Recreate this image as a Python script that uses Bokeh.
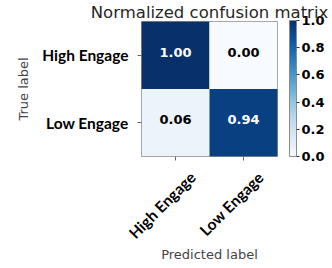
from math import pi
from bokeh.plotting import figure
from bokeh.models import (ColumnDataSource, LinearColorMapper, ColorBar, FixedTicker,
                          PrintfTickFormatter, Range1d, LinearAxis)
from bokeh.palettes import Blues256
from bokeh.transform import transform
from bokeh.embed import file_html
from bokeh.resources import INLINE
from bokeh.core.properties import value

# ---- data ----
classes = ["High Engage", "Low Engage"]
true_labels = ["High Engage", "High Engage", "Low Engage", "Low Engage"]
pred_labels = ["High Engage", "Low Engage", "High Engage", "Low Engage"]
rates = [1.00, 0.00, 0.06, 0.94]
colorbar_ticks = [0.0, 0.2, 0.4, 0.6, 0.8, 1.0]
title_text = "Normalized confusion matrix"
x_title = "Predicted label"
y_title = "True label"

n = len(classes)
col_pos = {c: i + 0.5 for i, c in enumerate(classes)}
row_pos = {c: n - i - 0.5 for i, c in enumerate(classes)}  # first class on top

thresh = max(rates) / 2
src = ColumnDataSource(dict(
    x=[col_pos[c] for c in pred_labels],
    y=[row_pos[c] for c in true_labels],
    rate=rates,
    txt=[f"{r:.2f}" for r in rates],
    tcolor=["white" if r > thresh else "black" for r in rates],
))

# ---- layout ----
W, H = 332, 268
B_LEFT, B_RIGHT, B_TOP, B_BOTTOM = 141, 55, 20, 112
FW = W - B_LEFT - B_RIGHT
FH = H - B_TOP - B_BOTTOM
LABEL_SHIFT_PX = 17  # rotated x labels sit a little right of their ticks

p = figure(width=W, height=H, title=title_text, x_range=Range1d(0, n), y_range=Range1d(0, n),
           output_backend="svg", toolbar_location=None,
           min_border_left=B_LEFT, min_border_right=B_RIGHT,
           min_border_top=B_TOP, min_border_bottom=B_BOTTOM)
p.title.align = "center"
p.title.standoff = 0
p.title.text_font = "DejaVu Sans"
p.title.text_font_size = "16.5px"
p.title.text_font_style = "normal"
p.title.text_color = "#262626"

p.grid.visible = False
p.outline_line_color = "#8c8c8c"
p.outline_line_width = 1
p.background_fill_color = "white"
p.border_fill_color = "white"

mapper = LinearColorMapper(palette=list(reversed(Blues256)), low=0, high=1)
p.rect(x="x", y="y", width=1, height=1, source=src,
       fill_color=transform("rate", mapper), line_color=None)
p.text(x="x", y="y", text="txt", text_color="tcolor", source=src, y_offset=-3,
       text_align="center", text_baseline="middle",
       text_font=value("DejaVu Sans"), text_font_style="bold", text_font_size="13px")

# axes
xa, ya = p.xaxis[0], p.yaxis[0]
xa.ticker = FixedTicker(ticks=[col_pos[c] for c in classes])
ya.ticker = FixedTicker(ticks=[row_pos[c] for c in classes])
xa.major_label_overrides = {col_pos[c]: "" for c in classes}
ya.major_label_overrides = {row_pos[c]: c for c in classes}
xa.major_label_standoff = 0

# second bottom axis carrying the rotated category labels
d = LABEL_SHIFT_PX * n / FW
p.extra_x_ranges = {"lbl": Range1d(-d, n - d)}
la = LinearAxis(x_range_name="lbl", ticker=FixedTicker(ticks=[col_pos[c] for c in classes]))
la.major_label_overrides = {col_pos[c]: c for c in classes}
la.major_label_orientation = pi / 4
la.major_tick_line_color = None
la.major_tick_out = 0
la.major_label_standoff = 14
p.add_layout(la, "below")

for ax in (xa, ya, la):
    ax.axis_line_color = None
    ax.major_tick_in = 0
    ax.minor_tick_line_color = None
    ax.axis_label_text_font = "DejaVu Sans"
    ax.axis_label_text_font_size = "13px"
    ax.axis_label_text_font_style = "normal"
    ax.axis_label_text_color = "#444444"
    ax.major_label_text_font = "Lato"
    ax.major_label_text_font_style = "bold"
    ax.major_label_text_font_size = "15.5px"
    ax.major_label_text_color = "black"
for ax in (xa, ya):
    ax.major_tick_out = 4
    ax.major_tick_line_color = "#666666"
ya.major_label_standoff = 9
ya.axis_label = y_title
ya.axis_label_standoff = 8
la.axis_label = x_title
la.axis_label_standoff = -4

# colorbar
cb = ColorBar(color_mapper=mapper, ticker=FixedTicker(ticks=colorbar_ticks),
              formatter=PrintfTickFormatter(format="%.1f"),
              width=7, height=FH, padding=0, margin=0, location=(FW + 12, 0),
              bar_line_color="#8c8c8c", major_tick_out=3, major_tick_in=0,
              major_tick_line_color="#333333", minor_tick_line_color=None,
              major_label_text_font="DejaVu Sans", major_label_text_font_style="bold",
              major_label_text_font_size="13px", major_label_text_color="black",
              label_standoff=2, background_fill_alpha=0, border_line_color=None)
p.add_layout(cb)

open("out.html", "w").write(file_html(p, INLINE))
